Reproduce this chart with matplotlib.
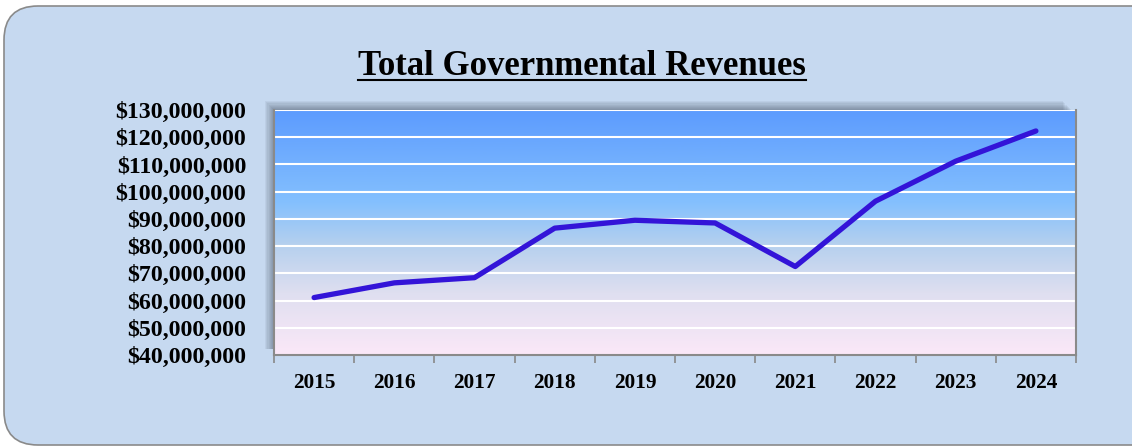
import matplotlib.pyplot as plt
import matplotlib.patches as mpatches
from matplotlib.lines import Line2D
from matplotlib.colors import LinearSegmentedColormap
from matplotlib.ticker import FuncFormatter, FixedLocator
import numpy as np

plt.rcParams['font.family'] = ['Liberation Serif', 'DejaVu Serif']
plt.rcParams['font.weight'] = 'bold'

years = ['2015', '2016', '2017', '2018', '2019', '2020', '2021', '2022', '2023', '2024']
revenues = [61.1e6, 66.5e6, 68.4e6, 86.6e6, 89.5e6, 88.5e6, 72.5e6, 96.5e6, 111.2e6, 122.3e6]

W, H = 1132, 446
fig = plt.figure(figsize=(W / 100, H / 100), dpi=100)
fig.patch.set_facecolor('white')

# rounded panel behind everything, sized in pixels
to_px = mpatches.transforms.Affine2D().scale(1 / W, 1 / H) + fig.transFigure
panel = mpatches.FancyBboxPatch((4, 1), W + 60, H - 7,
                                boxstyle='round,pad=0,rounding_size=34',
                                transform=to_px,
                                facecolor='#c6d9f0', edgecolor='#8a8a8a', linewidth=1.2, zorder=-10)
fig.add_artist(panel)

x0, x1, y0, y1 = 274, 1076, 110, 355
ax = fig.add_axes([x0 / W, 1 - y1 / H, (x1 - x0) / W, (y1 - y0) / H])

# soft shadow up-left of the plot area
for i in range(1, 9):
    d = i * 1.1
    sh = mpatches.Rectangle(((x0 - d) / W, (H - y1 + 6) / H), (x1 - x0 - 4) / W,
                            (y1 - y0 - 6 + d) / H, transform=fig.transFigure,
                            facecolor='#3c4656', edgecolor='none', alpha=0.07, zorder=-5)
    fig.add_artist(sh)

# gradient fill
cmap = LinearSegmentedColormap.from_list('bg', [(0.0, '#fbe8f8'), (0.25, '#dfdff0'),
                                                (0.45, '#b5d0ee'), (0.62, '#84c0fe'),
                                                (1.0, '#5c9bfe')])
grad = np.linspace(0, 1, 256).reshape(-1, 1)
ax.imshow(grad, cmap=cmap, aspect='auto', origin='lower',
          extent=[-0.5, 9.5, 40e6, 130e6], zorder=0)

ax.set_xlim(-0.5, 9.5)
ax.set_ylim(40e6, 130e6)
ax.set_yticks(np.arange(40e6, 130e6 + 1, 10e6))
ax.yaxis.set_major_formatter(FuncFormatter(lambda v, p: f'${v:,.0f}'))
ax.grid(axis='y', color='white', linewidth=1.5, zorder=1)

x = np.arange(len(years))
ax.plot(x, revenues, color='#3314d8', linewidth=3.8, solid_capstyle='round',
        solid_joinstyle='round', zorder=3)

ax.set_xticks(x)
ax.set_xticklabels(years)
ax.xaxis.set_minor_locator(FixedLocator(np.arange(-0.5, 10, 1)))
ax.tick_params(axis='x', which='major', length=0, pad=13, labelsize=15.3)
ax.tick_params(axis='x', which='minor', length=6, width=1.2, color='#888888', direction='out')
ax.tick_params(axis='y', length=0, pad=20, labelsize=17.2)
for lab in ax.get_xticklabels() + ax.get_yticklabels():
    lab.set_fontweight('bold')

for s in ['left', 'right', 'bottom']:
    ax.spines[s].set_color('#8a8a8a')
    ax.spines[s].set_linewidth(1.5)
ax.spines['top'].set_visible(False)

# title with underline
title = fig.text(582 / W, 1 - 75 / H, 'Total Governmental Revenues', ha='center', va='baseline',
                 fontsize=25, fontweight='bold', color='black')
fig.canvas.draw()
bb = title.get_window_extent(fig.canvas.get_renderer())
uy = 1 - 80 / H
fig.add_artist(Line2D([bb.x0 / W, bb.x1 / W], [uy, uy], transform=fig.transFigure,
                      color='black', linewidth=1.5))

fig.savefig('out.png', dpi=100, facecolor='white')
